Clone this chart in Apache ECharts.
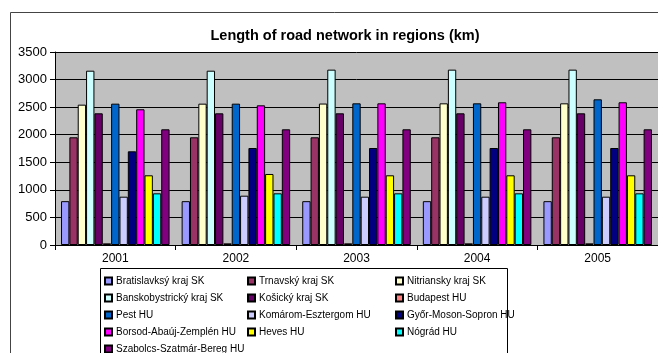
<!DOCTYPE html>
<html style="height: 100%">
  <head>
    <meta charset="utf-8" />
  </head>
  <body style="height: 100%; margin: 0; background: #fff">
    <div id="container" style="width: 658px; height: 353px"></div>
    <script src="https://cdn.jsdelivr.net/npm/echarts@6/dist/echarts.min.js"></script>
    <script>
      var years = ["2001", "2002", "2003", "2004", "2005"];
      var regions = [
        "Bratislavksý kraj SK",
        "Trnavský kraj SK",
        "Nitriansky kraj SK",
        "Banskobystrický kraj SK",
        "Košický kraj SK",
        "Budapest HU",
        "Pest HU",
        "Komárom-Esztergom HU",
        "Győr-Moson-Sopron HU",
        "Borsod-Abaúj-Zemplén HU",
        "Heves HU",
        "Nógrád HU",
        "Szabolcs-Szatmár-Bereg HU"
      ];
      var colors = [
        "#9999FF", "#993366", "#FFFFCC", "#CCFFFF", "#660066", "#FF8080",
        "#0066CC", "#CCCCFF", "#000080", "#FF00FF", "#FFFF00", "#00FFFF", "#800080"
      ];
      // one row per region, one value per year
      var bratislava = [795, 795, 795, 795, 795];
      var trnava = [1953, 1953, 1953, 1953, 1953];
      var nitra = [2545, 2563, 2565, 2569, 2569];
      var banska = [3161, 3161, 3180, 3180, 3180];
      var kosice = [2388, 2388, 2388, 2388, 2388];
      var budapest = [30, 30, 30, 30, 30];
      var pest = [2563, 2563, 2569, 2569, 2642];
      var komarom = [876, 894, 876, 876, 876];
      var gyor = [1699, 1759, 1759, 1759, 1759];
      var borsod = [2461, 2533, 2569, 2588, 2588];
      var heves = [1264, 1288, 1264, 1264, 1264];
      var nograd = [937, 937, 937, 937, 937];
      var szabolcs = [2098, 2098, 2098, 2098, 2098];
      var values = [bratislava, trnava, nitra, banska, kosice, budapest, pest,
        komarom, gyor, borsod, heves, nograd, szabolcs];
      var yTicks = [0, 500, 1000, 1500, 2000, 2500, 3000, 3500];

      var myChart = echarts.init(document.getElementById("container"));

      var series = regions.map(function (name, i) {
        return {
          name: name,
          type: "bar",
          data: values[i],
          barGap: "0%",
          barCategoryGap: "10%",
          itemStyle: { color: colors[i], borderColor: "#000", borderWidth: 1 }
        };
      });

      function legendCol(left, top, names) {
        return {
          orient: "vertical",
          left: left,
          top: top,
          padding: 0,
          itemWidth: 7,
          itemHeight: 7,
          itemGap: 5,
          icon: "rect",
          selectedMode: false,
          textStyle: {
            fontFamily: "Liberation Sans", fontSize: 10, color: "#000",
            height: 12, lineHeight: 12, padding: [0, 0, 0, -1]
          },
          data: names
        };
      }

      var option = {
        animation: false,
        backgroundColor: "#fff",
        title: {
          text: "Length of road network in regions (km)",
          left: 340,
          textAlign: "center",
          top: 23,
          textStyle: { fontFamily: "Liberation Sans", fontSize: 14.5, fontWeight: "bold", color: "#000" }
        },
        legend: [
          legendCol(104, 275, [regions[0], regions[3], regions[6], regions[9]]),
          legendCol(104, 343, [regions[12]]),
          legendCol(247, 275, [regions[1], regions[4], regions[7], regions[10]]),
          legendCol(395, 275, [regions[2], regions[5], regions[8], regions[11]])
        ],
        graphic: [
          {
            type: "rect",
            shape: { x: 10.5, y: 12.5, width: 700, height: 400 },
            style: { fill: null, stroke: "#444", lineWidth: 1 },
            z: -1
          },
          {
            type: "rect",
            shape: { x: 100.5, y: 268.5, width: 407, height: 100 },
            style: { fill: "#fff", stroke: "#000", lineWidth: 1 },
            z: -1
          }
        ],
        grid: {
          left: 55,
          top: 52,
          width: 605,
          bottom: 108,
          show: true,
          backgroundColor: "#C0C0C0",
          borderWidth: 0
        },
        xAxis: {
          type: "category",
          data: years,
          axisLine: { lineStyle: { color: "#000" } },
          axisTick: { show: true, length: 5, lineStyle: { color: "#000" } },
          axisLabel: { fontFamily: "Liberation Sans", fontSize: 12, color: "#000", margin: 8 }
        },
        yAxis: {
          type: "value",
          min: yTicks[0],
          max: yTicks[yTicks.length - 1],
          interval: 500,
          axisLine: { show: true, lineStyle: { color: "#000" } },
          axisTick: { show: true, length: 5, lineStyle: { color: "#000" } },
          axisLabel: {
            fontFamily: "Liberation Sans", fontSize: 13, color: "#000", margin: 8,
            formatter: function (v) { return String(v); }
          },
          splitLine: { lineStyle: { color: "#000", width: 1 } }
        },
        series: series
      };

      myChart.setOption(option);
    </script>
  </body>
</html>
